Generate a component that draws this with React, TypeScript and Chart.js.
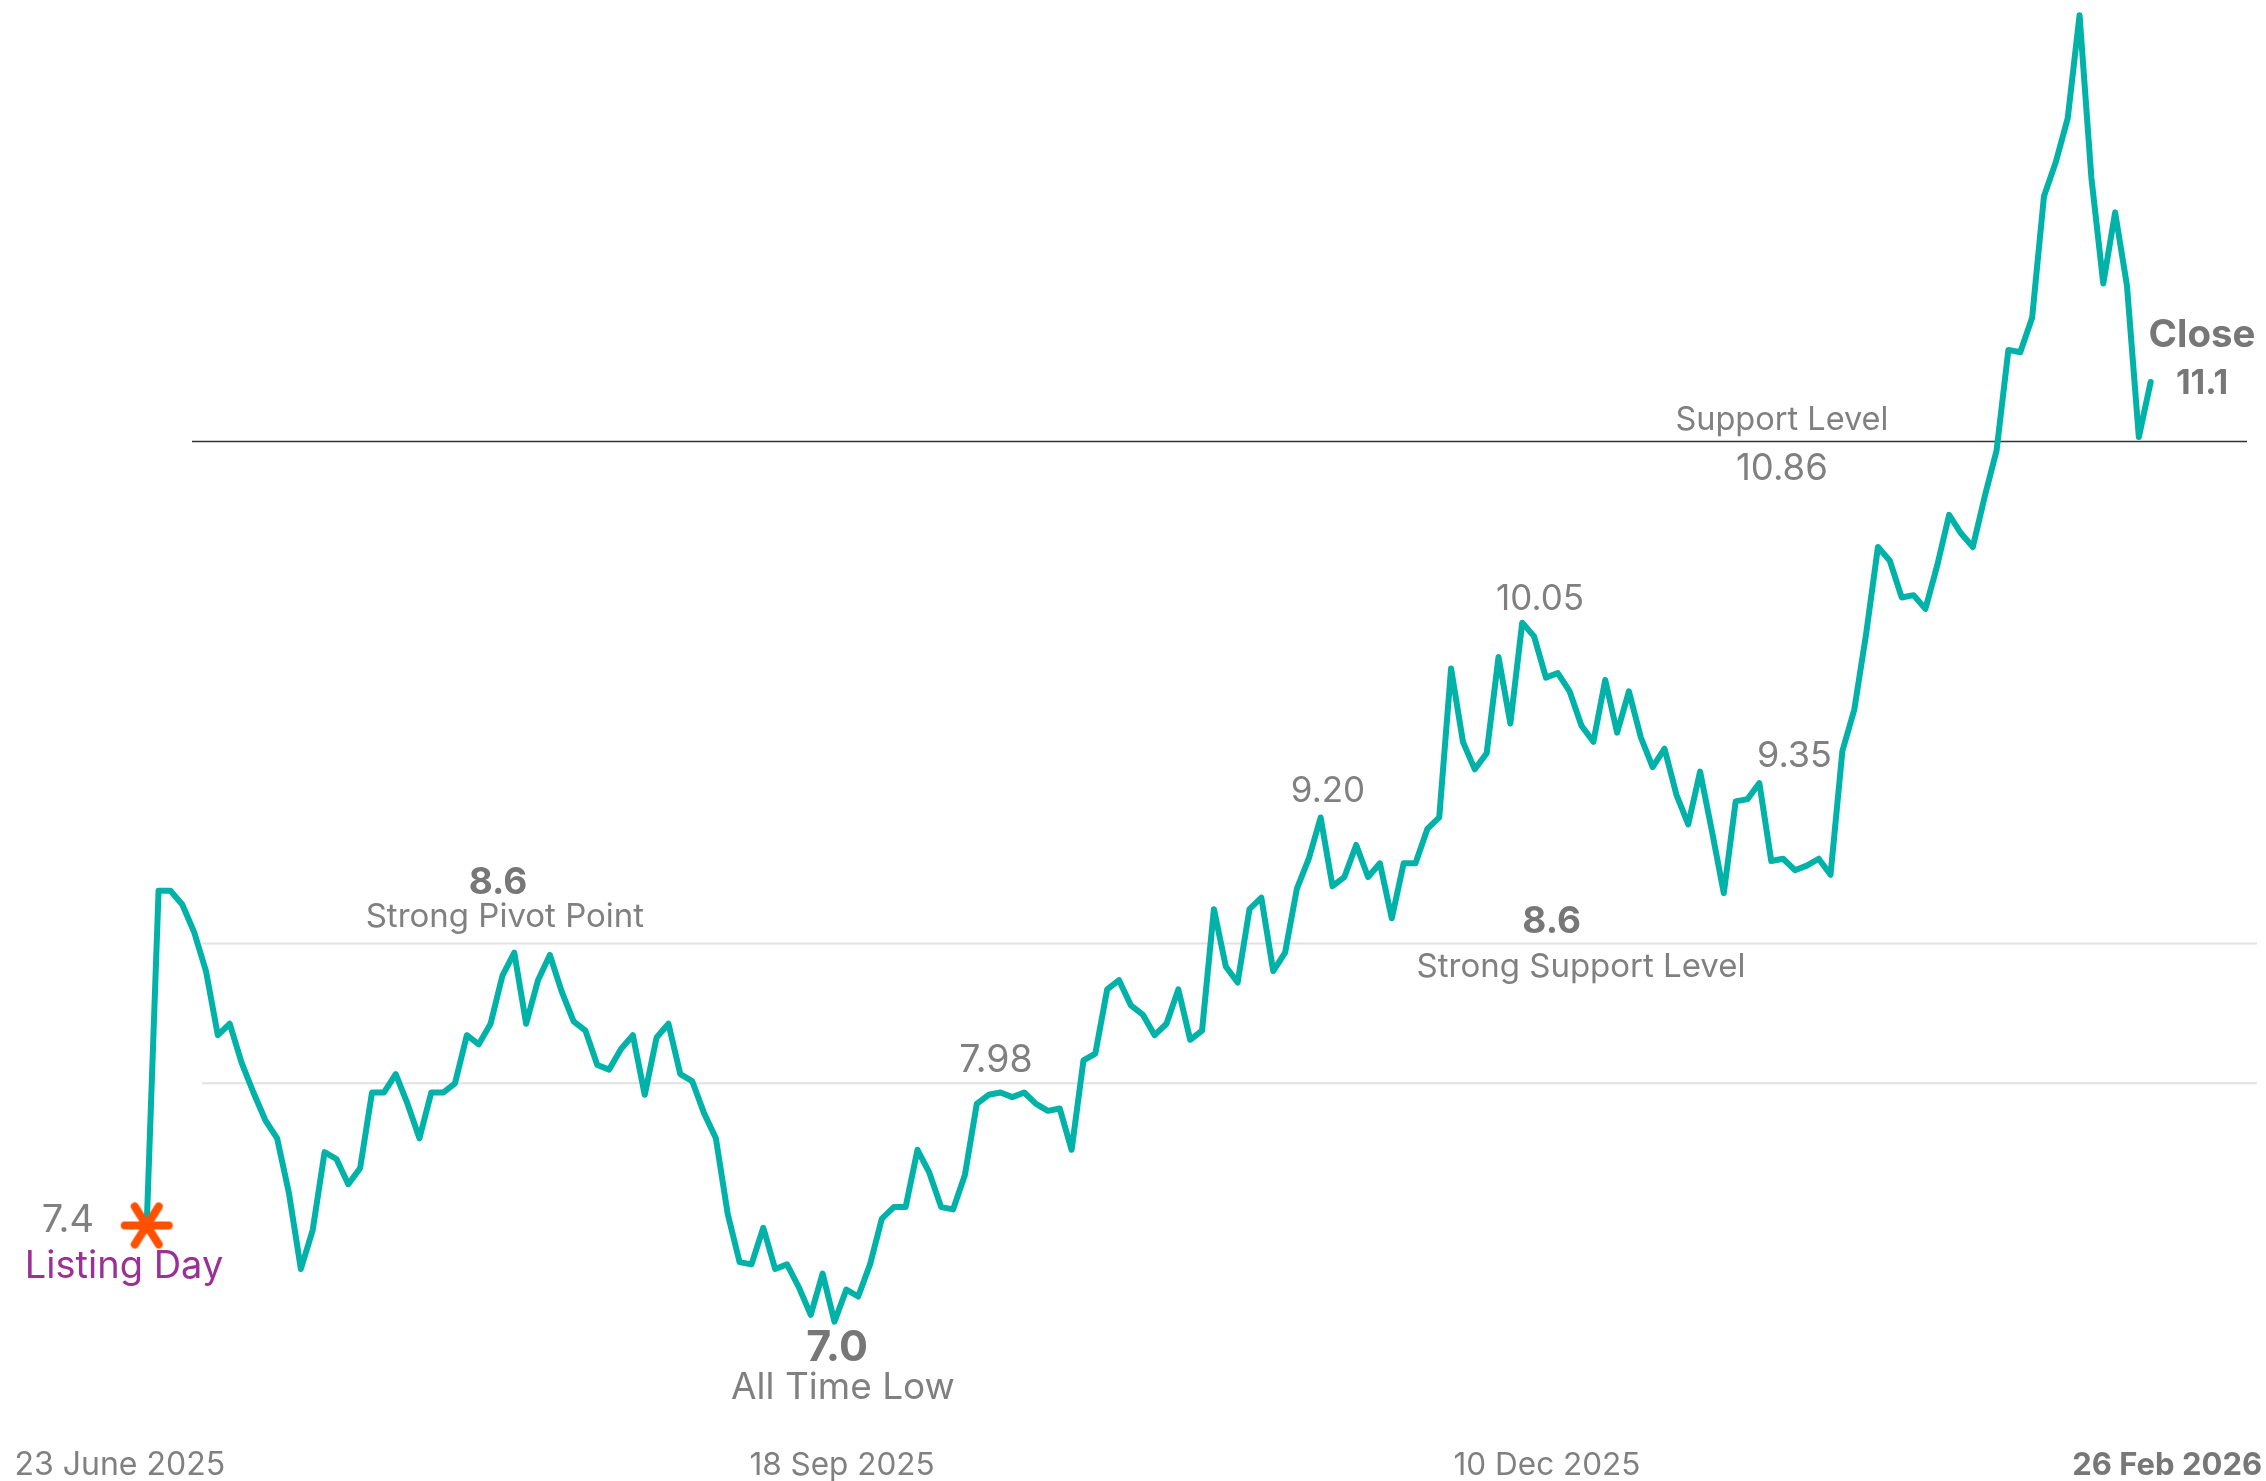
import React, { useEffect, useRef } from "react";
import { Chart, registerables } from "chart.js";

Chart.register(...registerables);

// ---- data ----
const dateTicks = ["23 June 2025", "18 Sep 2025", "10 Dec 2025", "26 Feb 2026"];
const dateTickIndex = [-11.15, 58.64, 118.09, 178.39];

const prices = [
  7.42, 8.88, 8.88, 8.82, 8.70, 8.53, 8.25, 8.30, 8.13, 8.00,
  7.88, 7.80, 7.56, 7.23, 7.40, 7.74, 7.71, 7.60, 7.67, 8.00,
  8.00, 8.08, 7.95, 7.80, 8.00, 8.00, 8.04, 8.25, 8.21, 8.30,
  8.51, 8.61, 8.30, 8.49, 8.60, 8.44, 8.31, 8.27, 8.12, 8.10,
  8.19, 8.25, 7.99, 8.24, 8.30, 8.08, 8.05, 7.91, 7.80, 7.47,
  7.26, 7.25, 7.41, 7.23, 7.25, 7.15, 7.03, 7.21, 7.00, 7.14,
  7.11, 7.25, 7.45, 7.50, 7.50, 7.75, 7.65, 7.50, 7.49, 7.64,
  7.95, 7.99, 8.00, 7.98, 8.00, 7.95, 7.92, 7.93, 7.75, 8.14,
  8.17, 8.45, 8.49, 8.38, 8.34, 8.25, 8.30, 8.45, 8.23, 8.27,
  8.80, 8.55, 8.48, 8.80, 8.85, 8.53, 8.61, 8.89, 9.02, 9.20,
  8.90, 8.94, 9.08, 8.94, 9.00, 8.76, 9.00, 9.00, 9.15, 9.20,
  9.85, 9.53, 9.41, 9.48, 9.90, 9.61, 10.05, 9.99, 9.81, 9.83,
  9.75, 9.60, 9.53, 9.80, 9.57, 9.75, 9.55, 9.42, 9.50, 9.30,
  9.17, 9.40, 9.14, 8.87, 9.27, 9.28, 9.35, 9.01, 9.02, 8.97,
  8.99, 9.02, 8.95, 9.49, 9.67, 10.00, 10.38, 10.32, 10.16, 10.17,
  10.11, 10.30, 10.52, 10.44, 10.38, 10.60, 10.80, 11.24, 11.23, 11.38,
  11.91, 12.06, 12.25, 12.70, 11.99, 11.53, 11.84, 11.52, 10.86, 11.10,
];

const pivotLevel = 8.65;
const lowerGridLevel = 8.04;
const supportLevel = 10.84;
const gridSpan = [4.66, 177.96];
const supportSpan = [3.82, 177.12];

// ---- annotations (data coordinates: x = trading-day index, y = price at text baseline) ----
type Note = {
  text: string;
  x: number;
  y: number;
  size: number;
  weight: number;
  color: string;
  align: CanvasTextAlign;
};

const GREY = "#808080";
const GREY_BOLD = "#777777";
const PURPLE = "#9b3196";

const notes: Note[] = [
  { text: "7.4", x: -6.64, y: 7.393, size: 38, weight: 400, color: GREY, align: "center" },
  { text: "Listing Day", x: -1.91, y: 7.189, size: 38, weight: 400, color: PURPLE, align: "center" },
  { text: "8.6", x: 29.63, y: 8.868, size: 37, weight: 700, color: GREY_BOLD, align: "center" },
  { text: "Strong Pivot Point", x: 30.21, y: 8.723, size: 33, weight: 400, color: GREY, align: "center" },
  { text: "7.0", x: 58.22, y: 6.829, size: 43, weight: 700, color: GREY_BOLD, align: "center" },
  { text: "All Time Low", x: 58.72, y: 6.661, size: 37, weight: 400, color: GREY, align: "center" },
  { text: "7.98", x: 71.62, y: 8.091, size: 37.5, weight: 400, color: GREY, align: "center" },
  { text: "9.20", x: 99.62, y: 9.269, size: 35, weight: 400, color: GREY, align: "center" },
  { text: "10.05", x: 117.5, y: 10.105, size: 35, weight: 400, color: GREY, align: "center" },
  { text: "9.35", x: 138.96, y: 9.421, size: 36, weight: 400, color: GREY, align: "center" },
  { text: "8.6", x: 118.48, y: 8.695, size: 37, weight: 700, color: GREY_BOLD, align: "center" },
  { text: "Strong Support Level", x: 120.96, y: 8.505, size: 33, weight: 400, color: GREY, align: "center" },
  { text: "Support Level", x: 137.9, y: 10.89, size: 32.5, weight: 400, color: GREY, align: "center" },
  { text: "10.86", x: 137.9, y: 10.671, size: 36.5, weight: 400, color: GREY, align: "center" },
  { text: "Close", x: 173.33, y: 11.253, size: 38.5, weight: 700, color: GREY_BOLD, align: "center" },
  { text: "11.1", x: 173.33, y: 11.048, size: 34, weight: 700, color: GREY_BOLD, align: "center" },
];

const tickBaseline = 6.331;
const tickAligns: CanvasTextAlign[] = ["left", "center", "center", "right"];
const tickWeights = [400, 400, 400, 700];
const tickSizes = [32, 31.5, 31.5, 31];

const FONT = "Inter, 'Noto Sans', sans-serif";

function makeStar(): HTMLCanvasElement {
  const c = document.createElement("canvas");
  c.width = 54;
  c.height = 54;
  const g = c.getContext("2d")!;
  g.strokeStyle = "#ff5000";
  g.lineWidth = 8;
  g.lineCap = "round";
  const cx = 27, cy = 27;
  g.beginPath();
  g.moveTo(cx - 22, cy); g.lineTo(cx + 22, cy);
  g.moveTo(cx - 12, cy - 19); g.lineTo(cx + 12, cy + 19);
  g.moveTo(cx + 12, cy - 19); g.lineTo(cx - 12, cy + 19);
  g.stroke();
  return c;
}

const notesPlugin = {
  id: "notes",
  afterDatasetsDraw(chart: any) {
    const { ctx, scales } = chart;
    const xs = scales.x, ys = scales.y;
    ctx.save();
    ctx.textBaseline = "alphabetic";
    for (const n of notes) {
      ctx.font = `${n.weight} ${n.size}px ${FONT}`;
      ctx.fillStyle = n.color;
      ctx.textAlign = n.align;
      ctx.fillText(n.text, xs.getPixelForValue(n.x), ys.getPixelForValue(n.y));
    }
    dateTicks.forEach((t, i) => {
      ctx.font = `${tickWeights[i]} ${tickSizes[i]}px ${FONT}`;
      ctx.fillStyle = i === 3 ? GREY_BOLD : GREY;
      ctx.textAlign = tickAligns[i];
      ctx.fillText(t, xs.getPixelForValue(dateTickIndex[i]), ys.getPixelForValue(tickBaseline));
    });
    ctx.restore();
  },
};

export default function App() {
  const ref = useRef<HTMLCanvasElement>(null);

  useEffect(() => {
    let chart: Chart | null = null;
    let cancelled = false;
    const make = () => {
      if (cancelled || !ref.current) return;
      const star = makeStar();
      chart = new Chart(ref.current, {
        type: "line",
        data: {
          datasets: [
            {
              label: "grid-pivot",
              data: [
                { x: gridSpan[0], y: pivotLevel },
                { x: gridSpan[1], y: pivotLevel },
              ],
              borderColor: "#e2e2e2",
              borderWidth: 2,
              pointRadius: 0,
              order: 5,
            },
            {
              label: "grid-lower",
              data: [
                { x: gridSpan[0], y: lowerGridLevel },
                { x: gridSpan[1], y: lowerGridLevel },
              ],
              borderColor: "#e2e2e2",
              borderWidth: 2,
              pointRadius: 0,
              order: 5,
            },
            {
              label: "support",
              data: [
                { x: supportSpan[0], y: supportLevel },
                { x: supportSpan[1], y: supportLevel },
              ],
              borderColor: "#333333",
              borderWidth: 1.5,
              pointRadius: 0,
              order: 4,
            },
            {
              label: "price",
              data: prices.map((v, i) => ({ x: i, y: v })),
              borderColor: "#00b2a8",
              borderWidth: 6,
              borderJoinStyle: "round",
              borderCapStyle: "round",
              pointRadius: 0,
              tension: 0,
              clip: false,
              order: 2,
            } as any,
            {
              label: "listing",
              data: [{ x: 0, y: prices[0] }],
              pointStyle: star as any,
              pointRadius: 27,
              showLine: false,
              clip: false,
              order: 1,
            } as any,
          ],
        },
        options: {
          animation: false,
          responsive: false,
          maintainAspectRatio: false,
          layout: { padding: 0, autoPadding: false },
          plugins: {
            legend: { display: false },
            tooltip: { enabled: false },
          },
          scales: {
            x: { type: "linear", min: -12.371, max: 178.724, display: false },
            y: { type: "linear", min: 6.305, max: 12.7666, display: false },
          },
        },
        plugins: [notesPlugin],
      });
    };
    const fonts: any = (document as any).fonts;
    if (fonts && fonts.load) {
      Promise.all([
        fonts.load(`400 34px Inter`),
        fonts.load(`700 34px Inter`),
      ]).then(make, make);
    } else {
      make();
    }
    return () => {
      cancelled = true;
      if (chart) chart.destroy();
    };
  }, []);

  return (
    <div
      style={{
        position: "fixed",
        left: 0,
        top: 0,
        width: 2266,
        height: 1481,
        background: "#ffffff",
      }}
    >
      <canvas
        ref={ref}
        width={2266}
        height={1481}
        style={{ display: "block", width: 2266, height: 1481 }}
      />
    </div>
  );
}
